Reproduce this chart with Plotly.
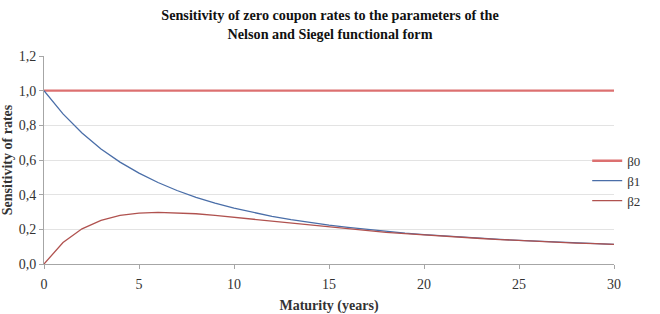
import plotly.graph_objects as go

maturity = list(range(0, 31))
beta0 = [1.0] * 31
beta1 = [1.000, 0.866, 0.756, 0.664, 0.588, 0.524, 0.470, 0.424, 0.385, 0.351,
         0.322, 0.297, 0.275, 0.256, 0.239, 0.224, 0.211, 0.199, 0.188, 0.178,
         0.170, 0.162, 0.154, 0.148, 0.142, 0.136, 0.131, 0.126, 0.121, 0.117, 0.113]
beta2 = [0.000, 0.124, 0.203, 0.252, 0.280, 0.294, 0.298, 0.296, 0.290, 0.280,
         0.269, 0.258, 0.246, 0.234, 0.223, 0.212, 0.202, 0.192, 0.183, 0.175,
         0.167, 0.160, 0.153, 0.147, 0.141, 0.135, 0.130, 0.126, 0.121, 0.117, 0.113]
series_names = ["β0", "β1", "β2"]
y_ticks = [0.0, 0.2, 0.4, 0.6, 0.8, 1.0, 1.2]
x_ticks = [0, 5, 10, 15, 20, 25, 30]

serif = "Liberation Serif, Times New Roman, serif"

fig = go.Figure()
fig.add_trace(go.Scatter(x=maturity, y=beta0, mode="lines", name=series_names[0],
                         line=dict(color="#DC7070", width=2.3)))
fig.add_trace(go.Scatter(x=maturity, y=beta1, mode="lines", name=series_names[1],
                         line=dict(color="#4A6EA8", width=1.3)))
fig.add_trace(go.Scatter(x=maturity, y=beta2, mode="lines", name=series_names[2],
                         line=dict(color="#B0524F", width=1.3)))

fig.update_layout(
    width=660, height=314,
    margin=dict(l=44, r=46, t=56, b=50, autoexpand=False),
    paper_bgcolor="white", plot_bgcolor="white",
    separators=",.",
    font=dict(family=serif, size=13, color="#333333"),
    title=dict(text="<b>Sensitivity of zero coupon rates to the parameters of the<br>Nelson and Siegel functional form</b>",
               x=0.5, xanchor="center", y=0.935, yanchor="top",
               font=dict(family=serif, size=14.2, color="#111111")),
    showlegend=True,
    legend=dict(x=0.953, xanchor="left", y=0.40, yanchor="middle",
                font=dict(family=serif, size=13, color="#333333"),
                bgcolor="rgba(0,0,0,0)", tracegroupgap=0, itemwidth=30),
    xaxis=dict(range=[0, 30], tickvals=x_ticks, showgrid=False, zeroline=False,
               showline=True, linecolor="#A6A6A6", linewidth=1,
               ticks="outside", ticklen=4, tickcolor="#A6A6A6",
               ticklabelstandoff=3, automargin=False,
               tickfont=dict(family=serif, size=14),
               title=dict(text="<b>Maturity (years)</b>", standoff=10,
                          font=dict(family=serif, size=14))),
    yaxis=dict(range=[0, 1.2], tickvals=y_ticks, tickformat=".1f",
               showgrid=True, gridcolor="#E3E3E3", zeroline=False,
               showline=True, linecolor="#A6A6A6", linewidth=1,
               ticks="outside", ticklen=4, tickcolor="#A6A6A6",
               automargin=False,
               tickfont=dict(family=serif, size=14),
               title=dict(text="<b>Sensitivity of rates</b>", standoff=2,
                          font=dict(family=serif, size=14))),
)

fig.write_html("out.html")
